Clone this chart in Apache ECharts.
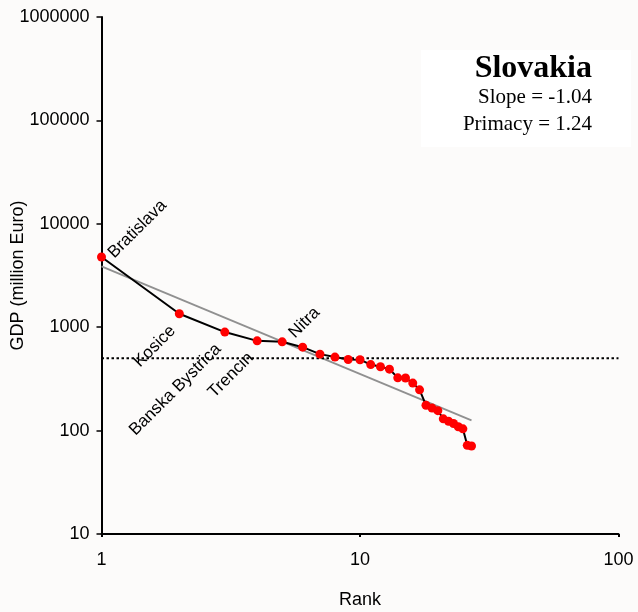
<!DOCTYPE html>
<html>
<head>
<meta charset="utf-8">
<script src="https://cdn.jsdelivr.net/npm/echarts@6/dist/echarts.min.js"></script>
<style>
  html, body { margin: 0; padding: 0; background: #fcfbfa; }
  #chart { width: 638px; height: 612px; }
</style>
</head>
<body>
<div id="chart"></div>
<script>
// Regional GDP of Slovakia by rank (million Euro)
const ranks = [1, 2, 3, 4, 5, 6, 7, 8, 9, 10, 11, 12, 13, 14, 15, 16, 17, 18, 19, 20, 21, 22, 23, 24, 25, 26, 27];
const gdp = [4775, 1349, 897, 738, 722, 641, 549, 514, 487, 485, 435, 414, 393, 324, 323, 288, 248, 176, 165, 156, 130, 123, 117, 109, 104, 72, 71];
const cityNames = ['Bratislava', 'Kosice', 'Banska Bystrica', 'Trencin', 'Nitra'];

// Rank-size regression and reference level
const country = 'Slovakia';
const slope = -1.04;
const primacy = 1.24;
const fitAtRankOne = 3870;
const threshold = 500;

const xTicks = [1, 10, 100];
const yTicks = [10, 100, 1000, 10000, 100000, 1000000];

const font = '"Liberation Sans", Arial, sans-serif';
const serif = '"Liberation Serif", "Times New Roman", serif';

// label placement: first city and Nitra read upwards from the dot,
// the others end just below-left of their dot
const labelBefore = { position: [-8, 13], align: 'right', verticalAlign: 'top' };
const placement = [
  { position: [20, 9], align: 'left', verticalAlign: 'bottom' },
  labelBefore,
  labelBefore,
  labelBefore,
  { position: [20, 4], align: 'left', verticalAlign: 'bottom' }
];

const mainData = ranks.map((r, i) => {
  const item = { value: [r, gdp[i]] };
  if (i < cityNames.length) {
    item.label = Object.assign({
      show: true,
      formatter: cityNames[i],
      rotate: 45,
      color: '#000',
      fontFamily: font,
      fontSize: 17
    }, placement[i]);
  }
  return item;
});

const lastRank = ranks[ranks.length - 1];
const fitData = [
  [1, fitAtRankOne],
  [lastRank, fitAtRankOne * Math.pow(lastRank, slope)]
];
const thresholdData = [[xTicks[0], threshold], [xTicks[xTicks.length - 1], threshold]];

const chart = echarts.init(document.getElementById('chart'), null, { renderer: 'canvas' });

chart.setOption({
  backgroundColor: '#fcfbfa',
  animation: false,
  grid: { left: 101.5, right: 19.5, top: 17, bottom: 78, containLabel: false, outerBoundsMode: 'none' },
  xAxis: {
    type: 'log',
    logBase: 10,
    min: xTicks[0],
    max: xTicks[xTicks.length - 1],
    name: 'Rank',
    nameLocation: 'middle',
    nameGap: 57,
    nameMoveOverlap: false,
    nameTextStyle: { color: '#000', fontFamily: font, fontSize: 18 },
    axisLine: { show: true, lineStyle: { color: '#000', width: 2 } },
    axisTick: { show: true, length: 3, lineStyle: { color: '#000', width: 2 } },
    axisLabel: { color: '#000', fontFamily: font, fontSize: 18, margin: 17,
      formatter: v => String(Math.round(v)) },
    splitLine: { show: false },
    minorTick: { show: false }
  },
  yAxis: {
    type: 'log',
    logBase: 10,
    min: yTicks[0],
    max: yTicks[yTicks.length - 1],
    name: 'GDP (million Euro)',
    nameLocation: 'middle',
    nameGap: 74,
    nameMoveOverlap: false,
    nameTextStyle: { color: '#000', fontFamily: font, fontSize: 18 },
    axisLine: { show: true, lineStyle: { color: '#000', width: 2 } },
    axisTick: { show: true, length: 5, lineStyle: { color: '#000', width: 1.5 } },
    axisLabel: { color: '#000', fontFamily: font, fontSize: 18, margin: 12,
      formatter: v => String(Math.round(v)) },
    splitLine: { show: false },
    minorTick: { show: false }
  },
  graphic: [
    { type: 'rect', shape: { x: 421, y: 50, width: 210, height: 97 }, style: { fill: '#ffffff' }, z: 0 },
    { type: 'text', x: 592, y: 69, style: { text: country, font: 'bold 32px ' + serif, fill: '#000', align: 'right', verticalAlign: 'middle' }, z: 1 },
    { type: 'text', x: 592, y: 97, style: { text: 'Slope = -' + Math.abs(slope).toFixed(2), font: '21px ' + serif, fill: '#000', align: 'right', verticalAlign: 'middle' }, z: 1 },
    { type: 'text', x: 592, y: 124.5, style: { text: 'Primacy = ' + primacy.toFixed(2), font: '21px ' + serif, fill: '#000', align: 'right', verticalAlign: 'middle' }, z: 1 }
  ],
  series: [
    {
      name: 'fit',
      type: 'line',
      data: fitData,
      showSymbol: false,
      symbol: 'none',
      lineStyle: { color: '#909090', width: 1.8 },
      z: 2
    },
    {
      name: 'threshold',
      type: 'line',
      data: thresholdData,
      showSymbol: false,
      symbol: 'none',
      lineStyle: { color: '#000', width: 2, type: [2.5, 2.5] },
      z: 2
    },
    {
      name: 'GDP',
      type: 'line',
      data: mainData,
      symbol: 'circle',
      symbolSize: 9,
      itemStyle: { color: '#ff0000' },
      lineStyle: { color: '#000', width: 2 },
      labelLayout: { hideOverlap: false },
      z: 3
    }
  ]
});
</script>
</body>
</html>
